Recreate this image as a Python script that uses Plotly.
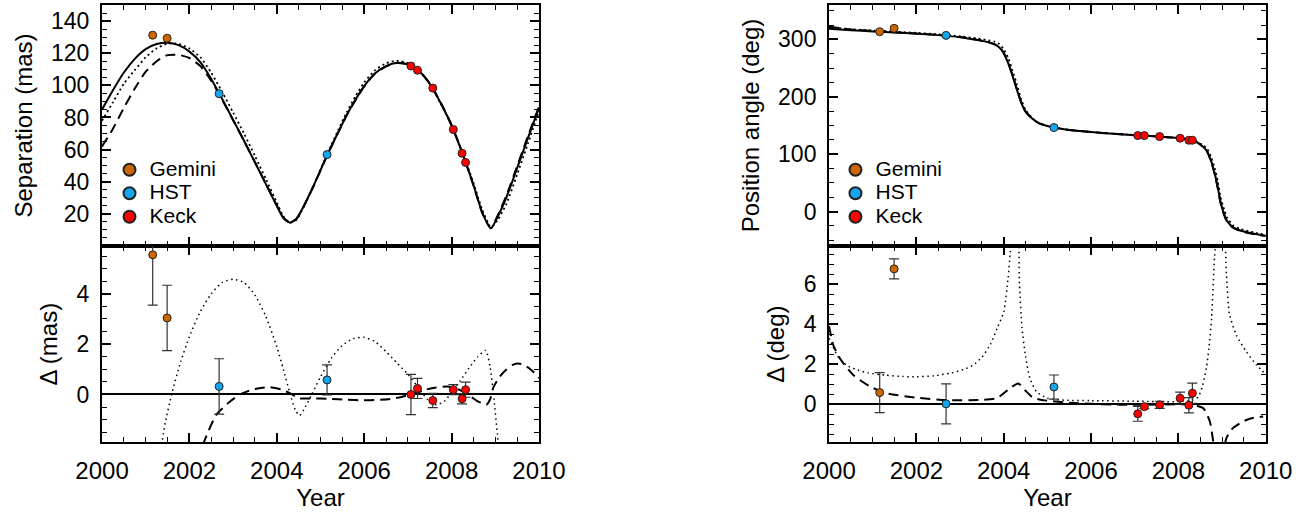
import plotly.graph_objects as go

# ---------------- observations ----------------
gem_year = [2001.16, 2001.49]
hst_year = [2002.68, 2005.15]
keck_year = [2007.07, 2007.22, 2007.57, 2008.04, 2008.24, 2008.32]

gem_sep = [131.2, 129.3]
hst_sep = [94.8, 56.9]
keck_sep = [112.0, 109.4, 98.3, 72.5, 57.7, 52.0]

gem_dsep = [5.55, 3.04]
gem_dsep_err = [2.0, 1.3]
hst_dsep = [0.32, 0.58]
hst_dsep_err = [1.1, 0.6]
keck_dsep = [0.0, 0.24, -0.24, 0.19, -0.17, 0.19]
keck_dsep_err = [0.8, 0.4, 0.28, 0.2, 0.2, 0.3]

gem_pa = [313.5, 319.3]
hst_pa = [307.0, 146.4]
keck_pa = [132.4, 132.4, 130.7, 127.8, 124.3, 124.3]

gem_dpa = [0.58, 6.76]
gem_dpa_err = [1.0, 0.5]
hst_dpa = [0.02, 0.86]
hst_dpa_err = [1.0, 0.6]
keck_dpa = [-0.48, -0.12, -0.03, 0.30, -0.05, 0.55]
keck_dpa_err = [0.37, 0.1, 0.18, 0.3, 0.38, 0.5]

# ---------------- orbit models: separation ----------------
sep_year = [2000.0, 2000.25, 2000.5, 2000.75, 2001.0, 2001.25, 2001.5, 2001.75,
            2002.0, 2002.25, 2002.5, 2002.75, 2003.0, 2003.25, 2003.5, 2003.75,
            2004.0, 2004.15, 2004.3, 2004.45, 2004.6, 2004.85, 2005.16, 2005.4,
            2005.6, 2005.8, 2006.0, 2006.25, 2006.5, 2006.75, 2007.0, 2007.25,
            2007.5, 2007.75, 2008.0, 2008.25, 2008.5, 2008.7, 2008.9, 2009.05,
            2009.25, 2009.5, 2009.75, 2010.0]
sep_best = [85.0, 97.0, 108.0, 116.5, 122.5, 125.7, 126.5, 125.0,
            121.0, 114.5, 104.0, 91.5, 78.5, 65.5, 52.0, 38.5,
            25.0, 17.5, 14.5, 17.0, 24.0, 38.0, 57.0, 70.5,
            81.5, 91.0, 99.5, 107.5, 112.0, 114.0, 113.0, 109.0,
            101.0, 89.0, 75.0, 57.5, 38.0, 21.0, 11.0, 18.0,
            30.0, 48.5, 67.5, 86.0]
sep_dotted = [78.0, 89.5, 101.0, 109.5, 117.5, 123.0, 126.0, 125.8,
              122.9, 117.5, 107.8, 95.9, 83.1, 70.0, 56.0, 41.7,
              27.1, 18.5, 14.5, 16.3, 23.5, 38.1, 57.5, 71.8,
              83.2, 93.2, 101.8, 109.5, 113.7, 115.3, 113.8, 109.3,
              100.8, 88.6, 75.1, 58.2, 39.3, 22.7, 11.8, 16.0,
              26.0, 44.5, 64.0, 84.0]
sep_dashed = [62.0, 73.0, 86.0, 98.0, 108.5, 115.0, 118.8, 119.0,
              117.0, 112.0, 102.8, 91.0, 78.3, 65.5, 52.2, 38.8,
              25.2, 17.6, 14.5, 16.9, 23.8, 37.8, 56.8, 70.3,
              81.3, 90.8, 99.3, 107.3, 111.8, 113.9, 113.0, 109.1,
              101.2, 89.3, 75.3, 57.6, 37.8, 20.6, 11.1, 18.7,
              31.0, 49.7, 68.6, 86.7]

dsep_dot_year = [2000.0, 2000.5, 2001.0, 2001.3, 2001.45, 2001.6, 2001.8, 2002.0,
                 2002.25, 2002.5, 2002.75, 2003.0, 2003.25, 2003.5, 2003.75, 2004.0,
                 2004.15, 2004.3, 2004.42, 2004.52, 2004.62, 2004.8, 2005.0, 2005.25,
                 2005.5, 2005.75, 2006.0, 2006.25, 2006.5, 2006.75, 2007.0, 2007.25,
                 2007.45, 2007.65, 2007.85, 2008.0, 2008.2, 2008.4, 2008.6, 2008.78,
                 2008.88, 2008.96, 2009.05, 2009.15, 2009.5, 2010.0]
dsep_dot = [-7.0, -7.5, -5.0, -2.6, -1.1, 0.05, 1.3, 2.3,
            3.3, 4.0, 4.45, 4.58, 4.45, 3.95, 3.1, 1.9,
            1.0, 0.05, -0.6, -0.84, -0.6, 0.0, 0.7, 1.45,
            1.95, 2.22, 2.27, 2.1, 1.7, 1.25, 0.8, 0.25,
            -0.2, -0.41, -0.25, 0.1, 0.55, 1.05, 1.5, 1.75,
            1.1, 0.0, -1.6, -3.0, -4.0, -2.0]
dsep_dash_year = [2000.0, 2000.5, 2001.0, 2001.5, 2002.0, 2002.33, 2002.62, 2002.93,
                  2003.16, 2003.5, 2003.84, 2004.1, 2004.3, 2004.5, 2004.8, 2005.2,
                  2005.6, 2005.97, 2006.3, 2006.6, 2006.85, 2007.05, 2007.25, 2007.43,
                  2007.65, 2007.89, 2008.1, 2008.27, 2008.45, 2008.57, 2008.7, 2008.8,
                  2008.88, 2008.95, 2009.1, 2009.26, 2009.4, 2009.53, 2009.65, 2009.76,
                  2009.88, 2010.0]
dsep_dash = [-23.0, -22.0, -14.0, -7.7, -3.8, -1.9, -0.8, -0.28,
             0.0, 0.22, 0.29, 0.2, 0.05, -0.15, -0.16, -0.17,
             -0.21, -0.23, -0.22, -0.18, -0.1, 0.0, 0.1, 0.2,
             0.28, 0.32, 0.25, 0.1, -0.1, -0.24, -0.35, -0.4,
             -0.2, 0.25, 0.7, 1.0, 1.18, 1.23, 1.18, 1.06,
             0.88, 0.65]

# ---------------- orbit models: position angle ----------------
pa_year = [2000.0, 2000.5, 2001.0, 2001.5, 2002.0, 2002.5, 2003.0, 2003.4,
           2003.65, 2003.8, 2003.9, 2004.0, 2004.1, 2004.2, 2004.3, 2004.4,
           2004.5, 2004.65, 2004.8, 2005.0, 2005.15, 2005.5, 2006.0, 2006.5,
           2007.0, 2007.5, 2008.0, 2008.2, 2008.4, 2008.55, 2008.65, 2008.75,
           2008.83, 2008.9, 2008.97, 2009.05, 2009.12, 2009.25, 2009.4, 2009.6,
           2009.8, 2010.0]
pa_best = [318.5, 316.0, 314.0, 312.0, 310.0, 307.5, 304.0, 299.0,
           295.0, 291.0, 286.0, 276.0, 259.0, 237.0, 213.0, 190.0,
           174.0, 162.0, 154.0, 149.0, 146.5, 142.0, 138.5, 135.8,
           133.2, 131.0, 128.2, 126.0, 122.0, 114.0, 106.0, 88.0,
           67.0, 43.0, 15.0, -5.0, -17.0, -27.0, -32.5, -36.5,
           -39.5, -42.0]
pa_dotted = [321.5, 317.8, 315.5, 313.4, 311.4, 309.0, 305.6, 301.5,
             298.5, 296.0, 292.0, 283.0, 268.0, 246.0, 222.0, 196.0,
             177.0, 163.5, 154.6, 149.3, 146.7, 142.2, 138.7, 136.0,
             133.4, 131.2, 128.4, 126.3, 122.7, 116.0, 110.0, 95.0,
             76.0, 53.0, 24.0, 3.0, -11.0, -23.5, -29.8, -34.1,
             -37.6, -40.4]
pa_dashed = [322.3, 317.5, 314.9, 312.5, 310.3, 307.7, 304.2, 299.2,
             295.3, 291.4, 286.5, 276.8, 259.8, 238.0, 214.0, 190.8,
             174.6, 162.3, 154.2, 149.1, 146.6, 142.1, 138.5, 135.8,
             133.2, 131.0, 128.2, 126.0, 122.0, 113.9, 105.6, 87.3,
             65.5, 41.2, 13.5, -6.5, -18.4, -28.2, -33.5, -37.3,
             -40.2, -42.6]

dpa_dot_year = [2000.0, 2000.2, 2000.4, 2000.6, 2000.9, 2001.3, 2001.7, 2002.0,
                2002.4, 2002.8, 2003.1, 2003.3, 2003.5, 2003.7, 2003.85, 2004.0,
                2004.1, 2004.15, 2004.22, 2004.3, 2004.36, 2004.42, 2004.5, 2004.6,
                2004.75, 2005.0, 2005.4, 2006.0, 2007.0, 2008.0, 2008.3, 2008.45,
                2008.55, 2008.64, 2008.7, 2008.76, 2008.83, 2008.95, 2009.05, 2009.1,
                2009.17, 2009.33, 2009.56, 2009.79, 2010.0]
dpa_dot = [3.3, 2.4, 1.95, 1.75, 1.56, 1.45, 1.38, 1.37,
           1.42, 1.56, 1.75, 1.95, 2.35, 3.0, 3.8, 4.6,
           6.3, 7.6, 9.5, 9.5, 6.0, 3.8, 2.4, 1.3,
           0.63, 0.3, 0.2, 0.18, 0.15, 0.13, 0.2, 0.35,
           0.9, 1.8, 2.8, 4.27, 7.4, 10.0, 9.0, 6.5,
           4.5, 3.44, 2.61, 1.95, 1.5]
dpa_dash_year = [2000.0, 2000.1, 2000.25, 2000.56, 2000.94, 2001.32, 2002.0, 2002.69,
                 2003.45, 2003.84, 2004.14, 2004.33, 2004.52, 2004.67, 2004.98, 2005.5,
                 2006.2, 2007.12, 2008.0, 2008.34, 2008.57, 2008.72, 2008.8, 2008.9,
                 2009.0, 2009.1, 2009.25, 2009.48, 2009.7, 2009.94]
dpa_dash = [3.9, 2.94, 2.28, 1.45, 0.88, 0.55, 0.33, 0.21,
            0.21, 0.3, 0.79, 1.04, 0.63, 0.33, 0.18, 0.08,
            0.0, -0.03, 0.0, -0.03, -0.2, -0.86, -1.86, -2.8,
            -2.6, -1.69, -1.19, -0.86, -0.69, -0.61]

# ---------------- styling ----------------
C_GEM = "#CC6600"
C_HST = "#12A5F0"
C_KECK = "#FF0000"
FONT = "Liberation Sans, Arial, Helvetica, sans-serif"

DOT_TOP = dict(color="black", width=1.8, dash="2px,3px", shape="spline", smoothing=0.6)
DOT_LOW = dict(color="black", width=1.5, dash="1.5px,3.5px", shape="spline", smoothing=0.6)
DASH = dict(color="black", width=2, dash="10px,6px", shape="spline", smoothing=0.6)
SOLID = dict(color="black", width=2, shape="spline", smoothing=0.6)

fig = go.Figure()


def line(xs, ys, style, xr, yr):
    fig.add_trace(go.Scatter(x=xs, y=ys, mode="lines", showlegend=False, line=style,
                             xaxis=xr, yaxis=yr, hoverinfo="skip"))


# top panels: three model orbits
line(sep_year, sep_dotted, DOT_TOP, "x", "y")
line(sep_year, sep_dashed, DASH, "x", "y")
line(sep_year, sep_best, SOLID, "x", "y")
line(pa_year, pa_dotted, DOT_TOP, "x3", "y3")
line(pa_year, pa_dashed, DASH, "x3", "y3")
line(pa_year, pa_best, SOLID, "x3", "y3")

# bottom panels: difference of the alternative orbits from the best fit
line(dsep_dot_year, dsep_dot, DOT_LOW, "x2", "y2")
line(dsep_dash_year, dsep_dash, DASH, "x2", "y2")
line(dpa_dot_year, dpa_dot, DOT_LOW, "x4", "y4")
line(dpa_dash_year, dpa_dash, DASH, "x4", "y4")

marker_line = dict(color="#222222", width=1)


def legend_name(text):
    # larger label text than the legend's row spacing font
    return '<span style="font-size:21px">' + text + "</span>"


# observed points, top panels (carry the legends)
for xr, yr, leg, vals in [("x", "y", "legend", (gem_sep, hst_sep, keck_sep)),
                          ("x3", "y3", "legend2", (gem_pa, hst_pa, keck_pa))]:
    for name, yrs, v, col in [("Gemini", gem_year, vals[0], C_GEM),
                              ("HST", hst_year, vals[1], C_HST),
                              ("Keck", keck_year, vals[2], C_KECK)]:
        fig.add_trace(go.Scatter(x=yrs, y=v, mode="markers", name=legend_name(name),
                                 legend=leg,
                                 marker=dict(color=col, size=8, line=marker_line),
                                 xaxis=xr, yaxis=yr))

# residual points with error bars, bottom panels
for xr, yr, sets in [("x2", "y2", ((gem_dsep, gem_dsep_err), (hst_dsep, hst_dsep_err), (keck_dsep, keck_dsep_err))),
                     ("x4", "y4", ((gem_dpa, gem_dpa_err), (hst_dpa, hst_dpa_err), (keck_dpa, keck_dpa_err)))]:
    for yrs, (v, e), col in zip((gem_year, hst_year, keck_year), sets, (C_GEM, C_HST, C_KECK)):
        fig.add_trace(go.Scatter(x=yrs, y=v, mode="markers", showlegend=False,
                                 error_y=dict(type="data", array=e, color="#333333",
                                              thickness=1.2, width=5),
                                 marker=dict(color=col, size=8, line=marker_line),
                                 xaxis=xr, yaxis=yr))

MINOR = dict(ticks="inside", ticklen=5, tickwidth=1.2, tickcolor="black", showgrid=False)
axis_common = dict(showline=True, linecolor="black", linewidth=2, mirror="allticks",
                   ticks="inside", ticklen=9, tickwidth=1.5, tickcolor="black",
                   showgrid=False, zeroline=False, automargin=False,
                   ticklabelstandoff=6)
XFONT = dict(size=24, color="black", family=FONT)
YFONT = dict(size=23, color="black", family=FONT)
title_font = dict(size=24, color="black", family=FONT)

year_ticks = [2000, 2002, 2004, 2006, 2008, 2010]
XL = [0.0777, 0.4105]
XR = [0.6314, 0.9640]
YT = [0.5223, 0.9903]
YB = [0.1412, 0.5223]

legend_common = dict(xanchor="left", yanchor="top", y=0.703,
                     font=dict(size=15.8, family=FONT, color="black"),
                     itemsizing="constant", bgcolor="rgba(0,0,0,0)",
                     tracegroupgap=0, borderwidth=0)

fig.update_layout(
    template="none",
    width=1313, height=515,
    margin=dict(l=0, r=0, t=0, b=0, pad=0),
    paper_bgcolor="white", plot_bgcolor="white",
    font=dict(family=FONT, color="black", size=24),
    xaxis=dict(axis_common, domain=XL, anchor="y", range=[2000, 2010],
               tickvals=year_ticks, showticklabels=False,
               minor=dict(MINOR, dtick=0.5)),
    yaxis=dict(axis_common, domain=YT, anchor="x", range=[0, 150],
               tickvals=[20, 40, 60, 80, 100, 120, 140], tickfont=YFONT,
               minor=dict(MINOR, dtick=5, tick0=0),
               title=dict(text="Separation (mas)", font=title_font, standoff=12)),
    xaxis2=dict(axis_common, domain=XL, anchor="y2", range=[2000, 2010],
                tickvals=year_ticks, tickfont=XFONT,
                minor=dict(MINOR, dtick=0.5),
                title=dict(text="Year", font=title_font, standoff=2)),
    yaxis2=dict(axis_common, domain=YB, anchor="x2", range=[-1.9, 5.9],
                tickvals=[0, 2, 4], tickfont=YFONT,
                zeroline=True, zerolinecolor="black", zerolinewidth=1.5,
                minor=dict(MINOR, dtick=0.5, tick0=0),
                title=dict(text="Δ (mas)", font=title_font, standoff=12)),
    xaxis3=dict(axis_common, domain=XR, anchor="y3", range=[2000, 2010],
                tickvals=year_ticks, showticklabels=False,
                minor=dict(MINOR, dtick=0.5)),
    yaxis3=dict(axis_common, domain=YT, anchor="x3", range=[-60, 360],
                tickvals=[0, 100, 200, 300], tickfont=YFONT,
                minor=dict(MINOR, dtick=25, tick0=0),
                title=dict(text="Position angle (deg)", font=title_font, standoff=12)),
    xaxis4=dict(axis_common, domain=XR, anchor="y4", range=[2000, 2010],
                tickvals=year_ticks, tickfont=XFONT,
                minor=dict(MINOR, dtick=0.5),
                title=dict(text="Year", font=title_font, standoff=2)),
    yaxis4=dict(axis_common, domain=YB, anchor="x4", range=[-1.9, 7.9],
                tickvals=[0, 2, 4, 6], tickfont=YFONT,
                zeroline=True, zerolinecolor="black", zerolinewidth=1.5,
                minor=dict(MINOR, dtick=0.5, tick0=0),
                title=dict(text="Δ (deg)", font=title_font, standoff=12)),
    legend=dict(legend_common, x=0.0834),
    legend2=dict(legend_common, x=0.6363),
)

fig.write_html("out.html")
